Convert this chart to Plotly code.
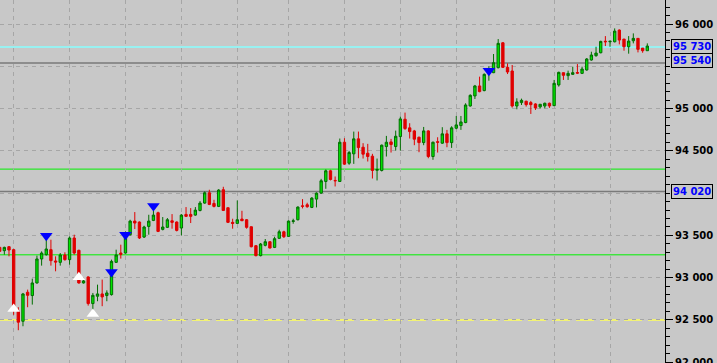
import plotly.graph_objects as go

# ---------------- data ----------------
bar_index = list(range(140))
opens = [93358, 93319, 93366, 93331, 92603, 92484, 92827, 92788, 92937, 93221,
         93272, 93331, 93197, 93181, 93268, 93213, 93469, 93323, 92937, 93008,
         92693, 92780, 92807, 92788, 92799, 93181, 93291, 93291, 93508, 93669,
         93658, 93480, 93606, 93677, 93768, 93571, 93595, 93673, 93658, 93587,
         93748, 93748, 93740, 93795, 93882, 94004, 93878, 93843, 94040, 93827,
         93654, 93642, 93693, 93685, 93602, 93378, 93260, 93382, 93425, 93358,
         93465, 93543, 93488, 93665, 93685, 93849, 93862, 93831, 93929, 94000,
         94138, 94264, 94150, 94138, 94602, 94354, 94465, 94642, 94543, 94472,
         94437, 94270, 94268, 94551, 94606, 94551, 94669, 94874, 94772, 94736,
         94661, 94598, 94736, 94433, 94608, 94591, 94701, 94598, 94768, 94799,
         94835, 95031, 95150, 95268, 95213, 95420, 95425, 95484, 95779, 95488,
         95445, 95031, 95071, 95087, 95071, 95055, 95020, 95031, 95063, 95035,
         95280, 95425, 95390, 95405, 95427, 95417, 95457, 95575, 95626, 95661,
         95797, 95791, 95791, 95929, 95823, 95732, 95803, 95831, 95716, 95685]
highs = [93366, 93366, 93374, 93340, 92650, 92819, 92858, 92988, 93260, 93311,
         93469, 93449, 93252, 93291, 93300, 93488, 93508, 93331, 92990, 93016,
         92819, 92917, 92977, 92850, 93213, 93331, 93390, 93547, 93685, 93776,
         93665, 93614, 93744, 93795, 93780, 93717, 93705, 93752, 93665, 93752,
         93835, 93823, 93835, 93906, 94020, 94040, 93921, 94047, 94075, 93830,
         93697, 93913, 93791, 93693, 93606, 93386, 93410, 93457, 93433, 93484,
         93567, 93555, 93677, 93697, 93843, 93929, 93886, 93953, 94008, 94169,
         94280, 94276, 94197, 94646, 94650, 94500, 94728, 94728, 94591, 94583,
         94465, 94409, 94575, 94677, 94642, 94740, 94906, 94953, 94827, 94748,
         94669, 94783, 94744, 94610, 94661, 94780, 94748, 94791, 94913, 94913,
         95063, 95169, 95280, 95378, 95417, 95500, 95646, 95823, 95787, 95535,
         95516, 95122, 95118, 95094, 95091, 95063, 95055, 95071, 95071, 95339,
         95437, 95425, 95449, 95496, 95527, 95496, 95598, 95673, 95732, 95803,
         95858, 95797, 95949, 95937, 95823, 95858, 95890, 95831, 95716, 95772]
lows = [93303, 93272, 93252, 92560, 92378, 92425, 92650, 92681, 92929, 93142,
        93260, 93142, 93075, 93142, 93200, 93154, 93272, 92929, 92930, 92669,
        92614, 92721, 92662, 92721, 92788, 93173, 93225, 93284, 93496, 93575,
        93457, 93469, 93508, 93669, 93539, 93559, 93587, 93579, 93547, 93500,
        93717, 93646, 93732, 93784, 93874, 93858, 93831, 93835, 93788, 93646,
        93579, 93640, 93670, 93579, 93358, 93252, 93252, 93370, 93347, 93350,
        93457, 93469, 93484, 93638, 93677, 93819, 93827, 93823, 93831, 93992,
        94051, 94150, 94079, 94134, 94335, 94335, 94346, 94413, 94409, 94374,
        94173, 94150, 94256, 94433, 94480, 94504, 94504, 94748, 94646, 94567,
        94484, 94567, 94413, 94394, 94480, 94583, 94543, 94535, 94756, 94748,
        94827, 95024, 95114, 95193, 95205, 95330, 95420, 95476, 95480, 95409,
        95012, 94992, 95043, 95024, 94937, 94984, 95000, 95004, 95008, 95031,
        95260, 95339, 95339, 95398, 95409, 95409, 95449, 95567, 95614, 95654,
        95740, 95732, 95783, 95760, 95685, 95650, 95772, 95665, 95661, 95685]
closes = [93311, 93358, 93327, 92650, 92473, 92807, 92791, 92937, 93221, 93291,
          93339, 93201, 93185, 93268, 93213, 93469, 93291, 92937, 92961, 92693,
          92791, 92807, 92772, 92819, 93193, 93268, 93276, 93488, 93669, 93646,
          93469, 93599, 93669, 93740, 93547, 93599, 93685, 93654, 93559, 93740,
          93725, 93725, 93799, 93882, 94004, 93866, 93843, 94036, 93795, 93654,
          93642, 93685, 93673, 93595, 93366, 93260, 93398, 93425, 93350, 93461,
          93543, 93484, 93669, 93672, 93835, 93845, 93839, 93941, 94000, 94146,
          94264, 94161, 94146, 94602, 94343, 94480, 94642, 94539, 94461, 94433,
          94268, 94280, 94567, 94602, 94575, 94673, 94878, 94764, 94728, 94638,
          94598, 94736, 94433, 94602, 94602, 94701, 94598, 94772, 94807, 94842,
          95043, 95157, 95268, 95201, 95405, 95470, 95543, 95772, 95488, 95433,
          95031, 95079, 95098, 95047, 95047, 95008, 95051, 95063, 95031, 95299,
          95429, 95394, 95417, 95425, 95420, 95468, 95587, 95634, 95657, 95795,
          95791, 95797, 95917, 95811, 95732, 95799, 95831, 95701, 95685, 95740]

# signal markers
sell_idx = [10, 24, 27, 33, 105]
sell_price = [93496, 93067, 93508, 93847, 95449]
buy_idx = [3, 17, 20]
buy_price = [92630, 93006, 92571]

# horizontal levels
cyan_level = 95730
gray_levels = [95540, 94020]
green_levels = [94284, 93270]
yellow_level = 92500
boxed_levels = [95730, 95540, 94020]
boxed_shift = [0, 2, 0]

# axis
tick_vals = [92000, 92500, 93000, 93500, 94500, 95000, 96000]
tick_text = ["92 000", "92 500", "93 000", "93 500", "94 500", "95 000", "96 000"]
grid_vals = [92000, 92500, 93000, 93500, 94000, 94500, 95000, 95500, 96000]
vgrid_idx = [3, 15, 27, 39, 51, 62, 74, 86, 98, 119, 131]

BG = "#C8C8C8"
GRID = "#A6A6A6"

fig = go.Figure()

fig.add_trace(go.Candlestick(
    x=bar_index, open=opens, high=highs, low=lows, close=closes,
    increasing=dict(line=dict(color="#006E00", width=1), fillcolor="#00E600"),
    decreasing=dict(line=dict(color="#E00000", width=1), fillcolor="#E00000"),
    whiskerwidth=0, hoverinfo="skip", showlegend=False,
))

fig.add_trace(go.Scatter(
    x=sell_idx, y=sell_price, mode="markers",
    marker=dict(symbol="triangle-down", size=11, color="#0000FF", line=dict(width=0)),
    showlegend=False, hoverinfo="skip"))
fig.add_trace(go.Scatter(
    x=buy_idx, y=buy_price, mode="markers",
    marker=dict(symbol="triangle-up", size=11, color="#FFFFFF", line=dict(width=0)),
    showlegend=False, hoverinfo="skip"))

shapes = []
shapes.append(dict(type="line", xref="paper", x0=0, x1=1, yref="y", y0=yellow_level, y1=yellow_level,
                   line=dict(color="#FFFF5A", width=1.5, dash="18px,6px"), layer="between"))
for g in green_levels:
    shapes.append(dict(type="line", xref="paper", x0=0, x1=1, yref="y", y0=g, y1=g,
                       line=dict(color="#00F000", width=1), layer="between"))
for g in gray_levels:
    shapes.append(dict(type="line", xref="paper", x0=0, x1=1, yref="y", y0=g, y1=g,
                       line=dict(color="#7A7A7A", width=1.4), layer="between"))
shapes.append(dict(type="line", xref="paper", x0=0, x1=1, yref="y", y0=cyan_level, y1=cyan_level,
                   line=dict(color="#88FFFF", width=1.5), layer="between"))

annotations = []
for lv, sh in zip(boxed_levels, boxed_shift):
    annotations.append(dict(
        xref="paper", x=1, xanchor="left", xshift=6, yref="y", y=lv, yshift=sh,
        text=f"{lv // 1000} {lv % 1000:03d}", showarrow=False,
        font=dict(family="DejaVu Sans", size=10, color="#0000FF", weight="bold"),
        bgcolor=BG, bordercolor="#000000", borderwidth=1, borderpad=1))

fig.update_layout(
    width=717, height=363,
    margin=dict(l=0, r=52, t=0, b=0, autoexpand=False),
    paper_bgcolor=BG, plot_bgcolor=BG,
    shapes=shapes, annotations=annotations,
    boxgap=0.28,
    xaxis=dict(
        range=[0.07, 142.8], rangeslider=dict(visible=False), automargin=False,
        showticklabels=False, ticks="", showline=False, zeroline=False,
        tickmode="array", tickvals=vgrid_idx,
        showgrid=True, gridcolor=GRID, griddash="4px,4px", gridwidth=1,
    ),
    yaxis=dict(
        side="right", range=[91990, 96285], automargin=False,
        tickmode="array", tickvals=tick_vals, ticktext=tick_text,
        ticks="outside", ticklen=7, tickcolor="#000000", tickwidth=1,
        showline=True, linecolor="#000000", linewidth=1, mirror=False,
        showgrid=False, zeroline=False, ticklabeloverflow="allow",
        tickfont=dict(family="DejaVu Sans", size=10, color="#000000", weight="bold"),
        minor=dict(tickmode="linear", tick0=0, dtick=100, ticks="outside", ticklen=4,
                   tickcolor="#000000", showgrid=False),
    ),
    yaxis2=dict(
        overlaying="y", side="left", range=[91990, 96285], tickmode="array", tickvals=grid_vals,
        automargin=False,
        showticklabels=False, ticks="", showgrid=True, gridcolor=GRID, griddash="4px,4px",
        zeroline=False, showline=False),
)
fig.add_trace(go.Scatter(x=[None], y=[None], yaxis="y2", showlegend=False, hoverinfo="skip"))

fig.write_html("out.html")
